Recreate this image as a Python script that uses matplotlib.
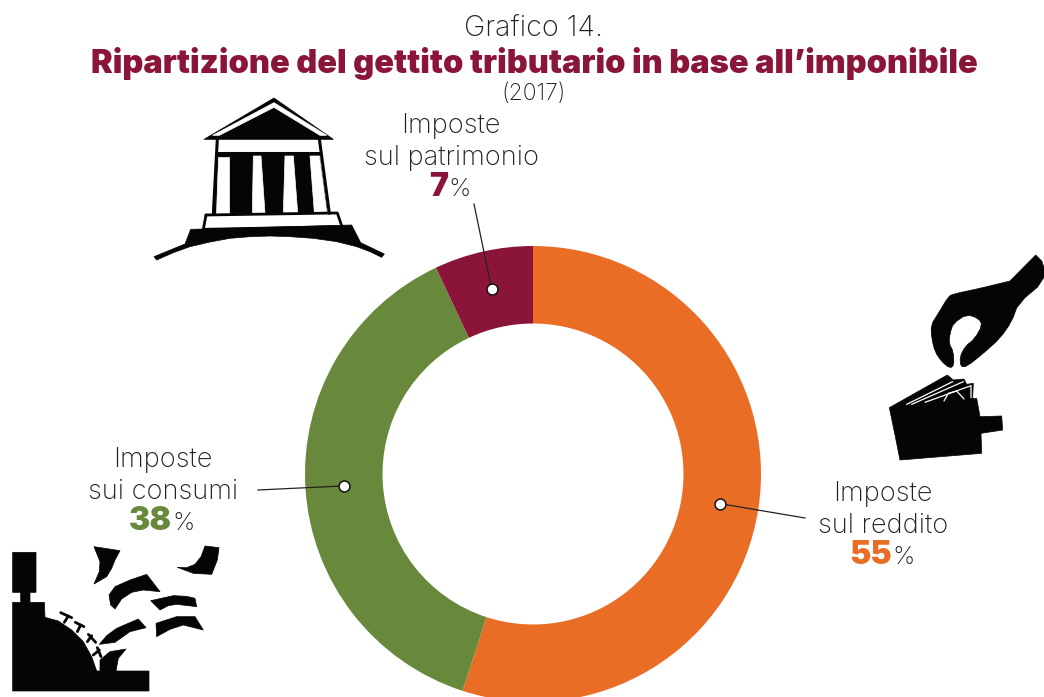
import matplotlib
matplotlib.use('Agg')
import numpy as np
import matplotlib.pyplot as plt
from matplotlib.patches import Polygon

W, H = 1044, 697

# data
labels = ['Imposte\nsul reddito', 'Imposte\nsui consumi', 'Imposte\nsul patrimonio']
values = [55, 38, 7]
colors = ['#EA6D26', '#68893B', '#8A1538']

title_top = 'Grafico 14.'
title = 'Ripartizione del gettito tributario in base all\u2019imponibile'
title_year = '(2017)'

TXT = '#222222'
FONT = 'Inter'

fig = plt.figure(figsize=(W / 100, H / 100), dpi=100)

# overlay in pixel coords for the text and icons
ov = fig.add_axes([0, 0, 1, 1], zorder=3)
ov.set_xlim(0, W)
ov.set_ylim(H, 0)
ov.axis('off')
ov.patch.set_alpha(0)

# donut
cx, cy, r = 533, 474, 228
ax = fig.add_axes([(cx - r) / W, (H - cy - r) / H, 2 * r / W, 2 * r / H], zorder=2)
wedges, _ = ax.pie(values, colors=colors, startangle=90, counterclock=False,
                   radius=1, wedgeprops=dict(width=0.34, linewidth=0))
ax.set_xlim(-1, 1)
ax.set_ylim(-1, 1)

# leader ends and label places, pixels
leader_ends = [(805, 518), (258, 490), (474, 204)]
label_pos = [(883, 494), (163, 460), (451, 126)]

for w, end, lab, pos, val, col in zip(wedges, leader_ends, labels, label_pos, values, colors):
	ang = np.deg2rad((w.theta1 + w.theta2) / 2)
	x = cx + 0.83 * r * np.cos(ang)
	y = cy - 0.83 * r * np.sin(ang)
	ov.plot([x, end[0]], [y, end[1]], color='#222222', lw=0.9, zorder=4)
	ov.scatter([x], [y], s=62, color='white', edgecolor='#111111', linewidth=1.1, zorder=5)
	l1, l2 = lab.split('\n')
	ov.text(pos[0], pos[1], l1, ha='center', va='center', fontsize=19.6, color=TXT, family=FONT, weight='light')
	ov.text(pos[0], pos[1] + 32, l2, ha='center', va='center', fontsize=19.6, color=TXT, family=FONT, weight='light')
	shift = 9 if val > 9 else -3
	ov.text(pos[0] + shift, pos[1] + 61, str(val), ha='right', va='center', fontsize=23, color=col, family=FONT, weight='black')
	ov.text(pos[0] + shift, pos[1] + 63, '%', ha='left', va='center', fontsize=18, color=TXT, family=FONT, weight='light')

# titles
ov.text(534, 28, title_top, ha='center', va='center', fontsize=20.6, color=TXT, family=FONT, weight='light')
ov.text(534, 64, title, ha='center', va='center', fontsize=23.45, color=colors[2], family=FONT, weight='black')
ov.text(534, 94, title_year, ha='center', va='center', fontsize=16.5, color=TXT, family=FONT, weight='light')


def chaikin(p, n):
	for _ in range(n):
		q = np.roll(p, -1, axis=0)
		p = np.column_stack([0.75 * p + 0.25 * q, 0.25 * p + 0.75 * q]).reshape(-1, 2)
	return p


def shape(pts, off, color='#050505', lw=0.5, smooth=0):
	# icon outlines are traced in 3x zoom coords
	p = chaikin(np.array(pts, dtype=float) / 3 + off, smooth)
	ov.add_patch(Polygon(p, closed=True, facecolor=color, edgecolor=color, lw=lw, joinstyle='round'))


def stroke(pts, off, color='#050505', lw=1.5):
	p = np.array(pts, dtype=float) / 3 + off
	ov.plot(p[:, 0], p[:, 1], color=color, lw=lw, solid_capstyle='round', solid_joinstyle='round')


# temple
off = (130, 90)
shape([(222, 148), (432, 24), (610, 148)], off)
shape([(248, 136), (432, 38), (590, 136), (570, 136), (432, 52), (268, 136)], off, 'white')
stroke([(262, 147), (250, 372)], off, lw=2.2)
stroke([(568, 147), (598, 370)], off, lw=2.2)
stroke([(262, 190), (568, 190)], off, lw=2.2)
shape([(262, 195), (568, 195), (592, 370), (254, 372)], off)
shape([(264, 200), (298, 200), (298, 372), (258, 372)], off, 'white')
shape([(370, 198), (393, 198), (405, 370), (367, 370)], off, 'white')
shape([(465, 198), (490, 198), (503, 368), (460, 368)], off, 'white')
shape([(540, 198), (568, 198), (590, 365), (553, 367)], off, 'white')
stroke([(228, 375), (622, 369), (636, 410), (220, 418), (228, 375)], off, lw=2.0)
shape([(72, 500), (165, 462), (182, 418), (665, 405), (692, 458), (763, 492), (755, 502),
       (720, 485), (680, 470), (620, 455), (550, 445), (480, 440), (420, 438), (360, 440), (300, 445),
       (240, 456), (180, 470), (130, 488), (80, 510)], off)

# hand and wallet
off = (870, 245)
shape([(497, 30), (522, 55), (522, 110), (445, 175), (425, 230), (390, 280), (340, 325), (290, 365),
       (272, 365), (270, 335), (285, 305), (315, 280), (337, 240), (325, 220), (290, 208), (250, 235),
       (240, 265), (237, 295), (250, 320), (252, 360), (240, 370), (215, 350), (195, 320), (185, 280),
       (183, 240), (205, 205), (235, 155), (250, 147), (330, 130), (420, 108), (420, 108), (497, 30), (497, 30)],
      off, smooth=1)
shape([(58, 488), (232, 390), (250, 405), (282, 402), (290, 418), (310, 415), (308, 460), (320, 460),
       (330, 515), (395, 513), (398, 555), (333, 565), (335, 625), (90, 645), (75, 570)], off)
stroke([(110, 478), (248, 410)], off, 'white', 0.9)
stroke([(125, 478), (280, 410)], off, 'white', 0.9)
stroke([(165, 472), (303, 422), (303, 458)], off, 'white', 0.9)
stroke([(222, 468), (235, 445), (260, 438), (282, 462)], off, 'white', 0.9)

# cash register
off = (0, 535)
shape([(38, 52), (108, 52), (108, 172), (90, 172), (90, 202), (133, 202), (135, 247), (175, 258),
       (215, 285), (250, 320), (275, 365), (290, 408), (447, 408), (447, 468), (38, 468),
       (38, 202), (62, 202), (62, 172), (38, 172)], off)
shape([(282, 35), (360, 47), (345, 75), (335, 100), (320, 125), (282, 147), (298, 110), (300, 80)], off)
shape([(532, 97), (560, 98), (585, 88), (603, 65), (615, 33), (657, 38), (652, 75), (635, 118), (580, 115)], off)
shape([(327, 180), (345, 155), (390, 135), (440, 118), (480, 170), (430, 165), (395, 172), (365, 192), (345, 222), (332, 210)], off)
shape([(452, 197), (520, 182), (560, 184), (585, 190), (590, 215), (530, 208), (505, 212), (480, 225)], off)
shape([(468, 265), (530, 245), (585, 245), (610, 285), (550, 270), (510, 283), (470, 305)], off)
shape([(298, 328), (320, 302), (350, 280), (415, 252), (438, 278), (390, 290), (345, 322)], off)
shape([(300, 375), (330, 350), (378, 342), (355, 370), (348, 408), (300, 408)], off)
# register keys
stroke([(193, 262), (205, 243)], off, lw=2.0)
stroke([(182, 233), (215, 248)], off, lw=2.0)
stroke([(232, 290), (242, 270)], off, lw=2.0)
stroke([(226, 262), (252, 275)], off, lw=2.0)
stroke([(262, 320), (275, 302)], off, lw=2.0)
stroke([(265, 298), (287, 322)], off, lw=2.0)
stroke([(280, 360), (298, 345)], off, lw=2.0)
stroke([(292, 338), (303, 365)], off, lw=2.0)

fig.savefig('out.png', dpi=100)
